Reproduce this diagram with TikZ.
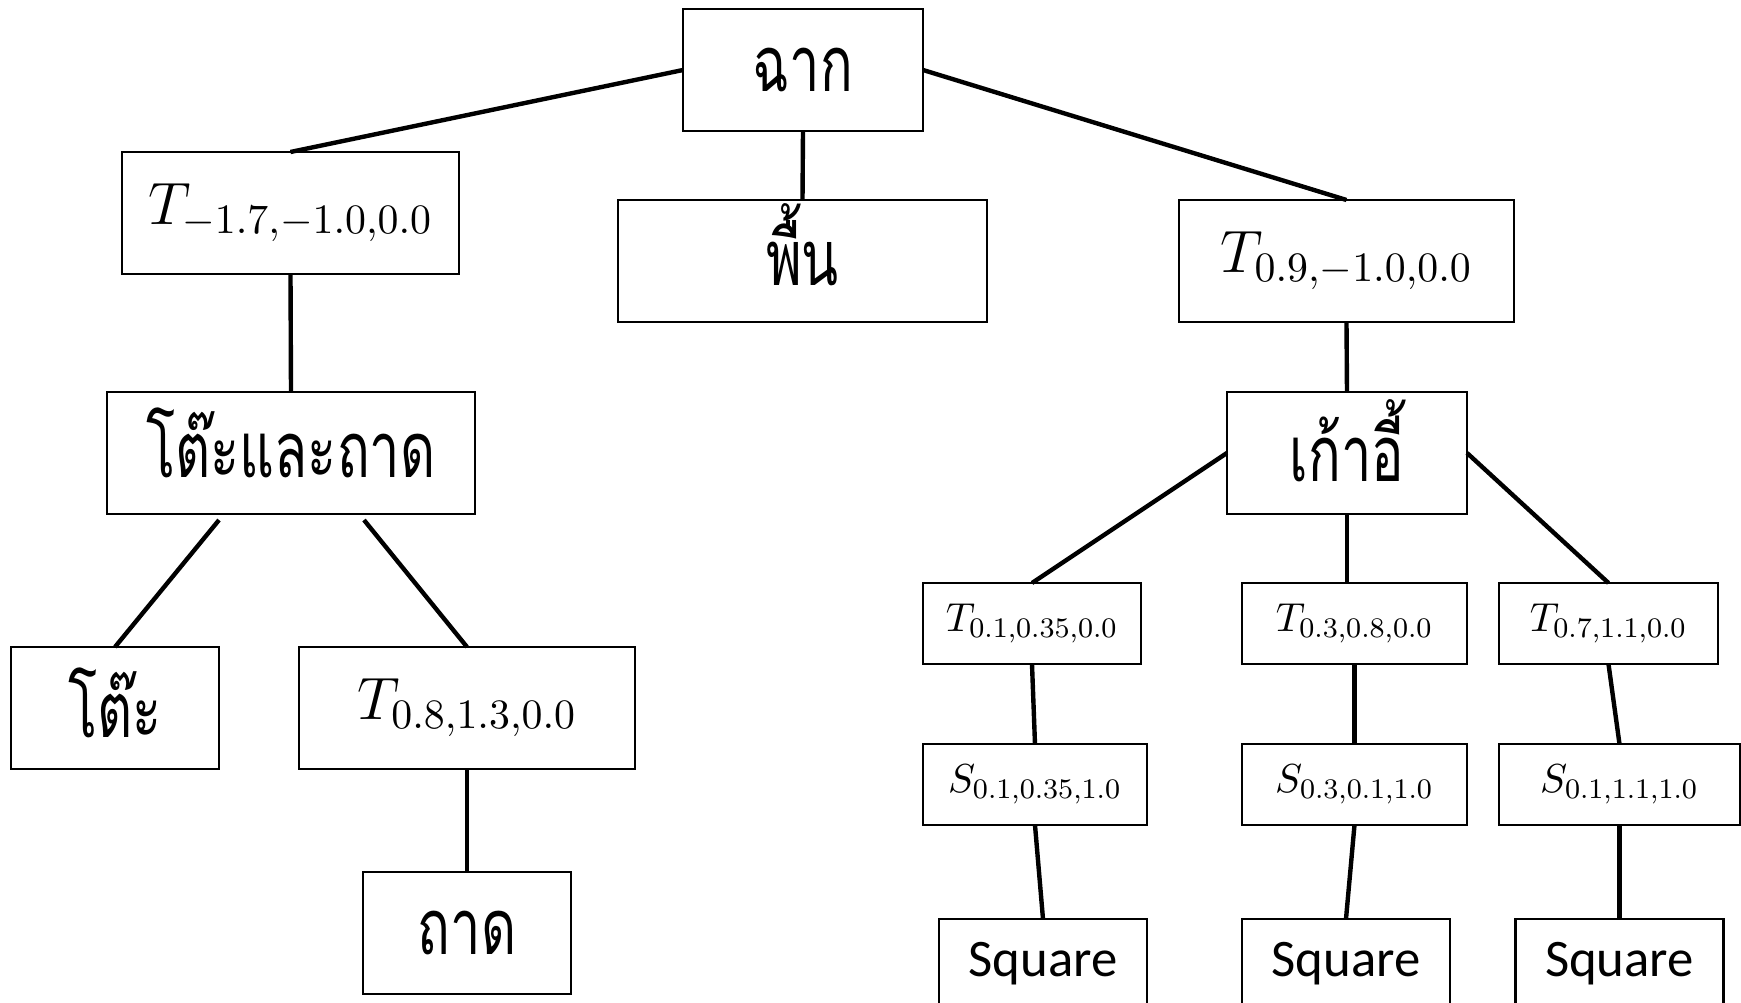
\documentclass[tikz,border=0pt]{standalone}
\usepackage{fix-cm}
\usepackage{fontspec}
\newfontfamily\thaifont[Script=Thai,FakeStretch=0.7]{Loma}
\newfontfamily\sqfont{Carlito}
\newcommand{\thaisize}{\fontsize{22}{25}\selectfont\thaifont}
\newcommand{\lift}[2]{\raisebox{#1}[\height][\depth]{#2}}
\begin{document}
\begin{tikzpicture}[x=.01cm,y=-.01cm,
  box/.style={draw,line width=.65pt,inner sep=0pt,outer sep=0pt,minimum height=1.22cm},
  bigbox/.style={box,font=\fontsize{17}{20}\selectfont},
  thbox/.style={box,font=\thaisize},
  sbox/.style={box,minimum height=.81cm,font=\fontsize{11.5}{14}\selectfont},
  sqbox/.style={box,minimum width=2.08cm,minimum height=.9cm,font=\fontsize{15}{18}\selectfont\sqfont},
  link/.style={line width=1.25pt}]
  \useasboundingbox (0,0) rectangle (1741,1002);
  \clip (0,0) rectangle (1741,1002);
  % top of the tree
  \node[thbox,minimum width=2.40cm] (scene) at (803,70) {ฉาก};
  \node[bigbox,minimum width=3.37cm] (tleft) at (290.5,213) {$T_{-1.7,-1.0,0.0}$};
  \node[thbox,minimum width=3.69cm] (floor) at (802.5,261) {\lift{4.5pt}{พื้น}};
  \node[bigbox,minimum width=3.35cm] (tright) at (1346.5,261) {$T_{0.9,-1.0,0.0}$};
  \draw[link] (scene.west) -- (tleft.north);
  \draw[link] (scene.south) -- (floor.north);
  \draw[link] (scene.east) -- (tright.north);
  % table and tray
  \node[thbox,minimum width=3.68cm] (tabtray) at (291,453) {\lift{2.8pt}{โต๊ะและถาด}};
  \node[thbox,minimum width=2.08cm] (table) at (115,708) {\lift{1.5pt}{โต๊ะ}};
  \node[bigbox,minimum width=3.36cm] (ttray) at (467,708) {$T_{0.8,1.3,0.0}$};
  \node[thbox,minimum width=2.08cm] (tray) at (467,933) {ถาด};
  \coordinate (tabl) at (219,520);
  \coordinate (tabr) at (364,520);
  \draw[link] (tleft.south) -- (tabtray.north);
  \draw[link] (tabl) -- (table.north);
  \draw[link] (tabr) -- (ttray.north);
  \draw[link] (ttray.south) -- (tray.north);
  % chair
  \node[thbox,minimum width=2.40cm] (chair) at (1347,453) {\lift{3.5pt}{เก้าอี้}};
  \draw[link] (tright.south) -- (chair.north);
  \foreach \k/\tx/\sx/\qx/\tl/\sl/\tw/\sw in {
    a/1032/1035/1043/{0.1,0.35,0.0}/{0.1,0.35,1.0}/2.18/2.24,
    b/1354.5/1354.5/1346/{0.3,0.8,0.0}/{0.3,0.1,1.0}/2.25/2.25,
    c/1608.5/1619.5/1619.5/{0.7,1.1,0.0}/{0.1,1.1,1.0}/2.19/2.41}
  {
    \node[sbox,minimum width=\tw cm] (t\k) at (\tx,623.5) {$T_{\tl}$};
    \node[sbox,minimum width=\sw cm] (s\k) at (\sx,784.5) {$S_{\sl}$};
    \node[sqbox] (sq\k) at (\qx,964) {Square};
    \draw[link] (t\k.south) -- (s\k.north);
    \draw[link] (s\k.south) -- (sq\k.north);
  }
  \draw[link] (chair.west) -- (ta.north);
  \draw[link] (chair.south) -- (chair.south |- tb.north);
  \draw[link] (chair.east) -- (tc.north);
\end{tikzpicture}
\end{document}
